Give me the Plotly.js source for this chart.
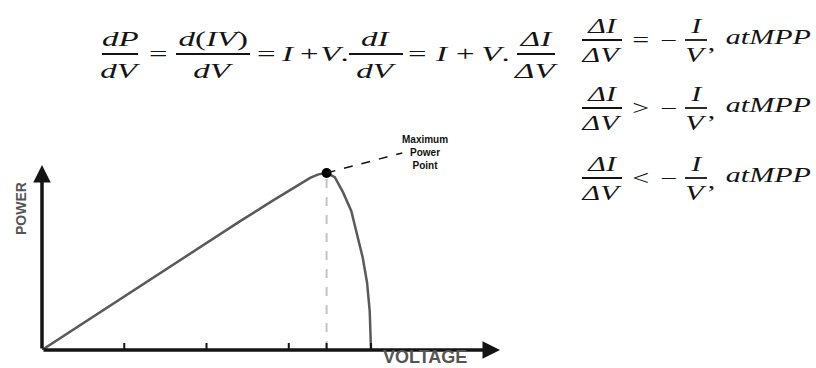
<!DOCTYPE html>
<html>
<head>
<meta charset="utf-8">
<script src="https://cdn.plot.ly/plotly-3.0.1.min.js"></script>
<style>
  html, body { margin: 0; padding: 0; background: #fff; }
  #chart { width: 816px; height: 368px; }
</style>
</head>
<body>
<div id="chart"></div>
<script>
// P–V characteristic of a PV module (arbitrary units)
const voltage = [0, 2, 4, 6, 8, 10, 12, 14, 15, 15.7, 16.3, 16.8, 17.3, 17.8, 18.3, 18.8, 19.15, 19.5, 19.76, 19.92, 20];
const power   = [0, 12.1, 24.2, 36.4, 48.5, 60.6, 72.5, 84.2, 89.8, 94.2, 97.2, 99.2, 100, 97.6, 89, 78.5, 66, 52, 38, 22, 0];
const tickVoltages = [5, 10, 15, 17.3, 20];
const mppVoltage = 17.3;
const mppPower = 100;
const axisEndVoltage = 27.84;
const axisEndPower = 104.5;

// figure size and pixel helpers for the formula block
const W = 816, H = 368;
const px = x => x / W;
const py = y => 1 - y / H;
const INK = '#141414';
const SERIF = 'Liberation Serif, Times New Roman, serif';
const WIDEN = 1.5;          // formula glyphs are set wide

const annotations = [];
const shapes = [];
const widened = [];

function txt(s, x, y, size) {
  widened.push(annotations.length);
  annotations.push({
    xref: 'paper', yref: 'paper', x: px(x), y: py(y), text: s, showarrow: false,
    xanchor: 'center', yanchor: 'middle',
    font: { family: SERIF, size: size, color: INK }
  });
}
function frac(num, den, cx, y, halfW, size) {
  shapes.push({ type: 'line', xref: 'paper', yref: 'paper',
    x0: px(cx - halfW), x1: px(cx + halfW), y0: py(y), y1: py(y),
    line: { color: INK, width: 1.8 } });
  txt(num, cx, y - size * 0.7, size);
  txt(den, cx, y + size * 0.74, size);
}

// dP/dV = d(IV)/dV = I + V.dI/dV = I + V.ΔI/ΔV
const topY = 54, topSize = 22;
frac('<i>dP</i>', '<i>dV</i>', 120, topY, 18, topSize);
txt('=', 158, topY, topSize);
frac('<i>d</i>(<i>IV</i>)', '<i>dV</i>', 213, topY, 37, topSize);
txt('=', 266, topY, topSize);
txt('<i>I</i>', 288, topY, topSize);
txt('+', 309, topY, topSize);
txt('<i>V</i>.', 334, topY, topSize);
frac('<i>dI</i>', '<i>dV</i>', 376, topY, 27, topSize);
txt('=', 417, topY, topSize);
txt('<i>I</i>', 442, topY, topSize);
txt('+', 465, topY, topSize);
txt('<i>V</i>.', 496, topY, topSize);
frac('<i>ΔI</i>', '<i>ΔV</i>', 536, topY, 19, topSize);

// MPP conditions
const condSize = 20;
const conds = [['=', 40], ['>', 108], ['<', 178]];
conds.forEach(([op, y]) => {
  frac('<i>ΔI</i>', '<i>ΔV</i>', 602, y, 20, condSize);
  txt(op, 640, y, condSize);
  txt('−', 668, y, condSize);
  frac('<i>I</i>', '<i>V</i>', 696, y, 11, condSize);
  txt(',', 711, y + 3, condSize);
  txt('<i>atMPP</i>', 768, y - 3, condSize);
});

// axis lines with arrowheads
annotations.push({ x: axisEndVoltage, y: 0, ax: 0, ay: 0, xref: 'x', yref: 'y', axref: 'x', ayref: 'y',
  text: '', showarrow: true, arrowhead: 2, arrowsize: 1, arrowwidth: 3.5, arrowcolor: INK, standoff: 0 });
annotations.push({ x: 0, y: axisEndPower, ax: 0, ay: 0, xref: 'x', yref: 'y', axref: 'x', ayref: 'y',
  text: '', showarrow: true, arrowhead: 2, arrowsize: 1, arrowwidth: 3.5, arrowcolor: INK, standoff: 0 });

// axis labels
annotations.push({ xref: 'paper', yref: 'paper', x: px(11), y: py(209), text: '<b>POWER</b>', textangle: -90,
  showarrow: false, font: { family: 'Liberation Sans, Arial, sans-serif', size: 14, color: '#555' } });
annotations.push({ xref: 'paper', yref: 'paper', x: px(425), y: 0, yanchor: 'bottom', yshift: -1,
  text: '<b>VOLTAGE</b>', showarrow: false,
  font: { family: 'Liberation Sans, Arial, sans-serif', size: 18, color: '#555' } });

// MPP label with dashed leader
annotations.push({ xref: 'paper', yref: 'paper', x: px(425), y: py(152), text: '<b>Maximum<br>Power<br>Point</b>',
  showarrow: false, font: { family: 'Liberation Sans, Arial, sans-serif', size: 10, color: '#111' } });
shapes.push({ type: 'line', xref: 'x', yref: 'y', x0: mppVoltage, y0: mppPower, x1: 21.9, y1: 111.3,
  line: { color: '#111', width: 1.5, dash: 'dash' } });

const traces = [
  { x: [mppVoltage, mppVoltage], y: [0, mppPower], mode: 'lines',
    line: { color: '#c4c4c4', width: 2, dash: 'dash' }, hoverinfo: 'skip' },
  { x: voltage, y: power, mode: 'lines', line: { color: '#5a5a5a', width: 2.5 } },
  { x: tickVoltages, y: tickVoltages.map(() => 0), mode: 'markers',
    marker: { symbol: 'line-ns-open', size: 10, color: INK, line: { color: INK, width: 2 } }, hoverinfo: 'skip' },
  { x: [mppVoltage], y: [mppPower], mode: 'markers', marker: { color: '#000', size: 10 } }
];

const layout = {
  width: W, height: H,
  margin: { l: 0, r: 0, t: 0, b: 0 },
  paper_bgcolor: '#fff', plot_bgcolor: 'rgba(0,0,0,0)',
  showlegend: false,
  xaxis: { domain: [42 / W, 500 / W], range: [0, axisEndVoltage], visible: false, fixedrange: true },
  yaxis: { domain: [18 / H, 228 / H], range: [0, 118.6], visible: false, fixedrange: true },
  annotations: annotations,
  shapes: shapes
};

Plotly.newPlot('chart', traces, layout, { displayModeBar: false, staticPlot: true }).then(gd => {
  // stretch the formula glyphs horizontally about their own centres
  widened.forEach(i => {
    const t = gd.querySelector('g.annotation[data-index="' + i + '"] text');
    if (!t) return;
    t.style.transformBox = 'fill-box';
    t.style.transformOrigin = '50% 50%';
    t.style.transform = 'scaleX(' + WIDEN + ')';
  });
});
</script>
</body>
</html>
